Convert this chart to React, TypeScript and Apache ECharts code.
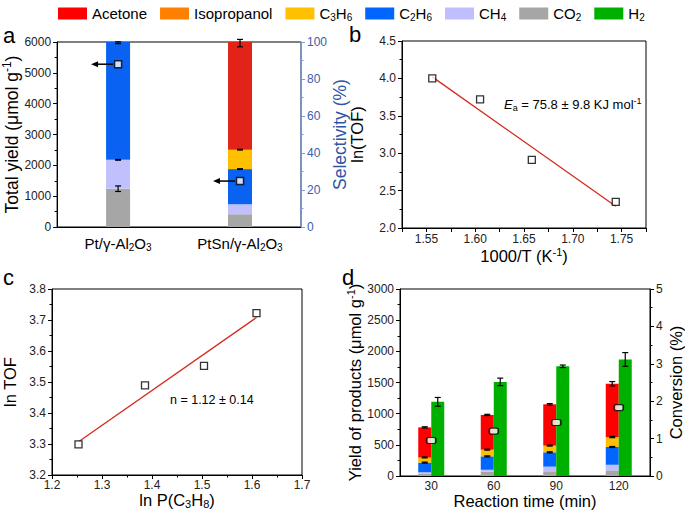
import React, { useEffect, useRef } from 'react';
import * as echarts from 'echarts';

const FONT = "'Liberation Sans', Arial, Helvetica, sans-serif";

// ---------- legend ----------
const legendNames = ['Acetone', 'Isopropanol', 'C3H6', 'C2H6', 'CH4', 'CO2', 'H2'];

// ---------- panel a (selectivity %, total yield) ----------
const catalystsA = ['Pt/γ-Al2O3', 'PtSn/γ-Al2O3'];
const selCO2A = [20.7, 6.9];
const selCH4A = [15.6, 5.4];
const selC2H6A = [63.7, 19.0];
const selC3H6A = [0, 10.5];
const selIsoA = [0, 0];
const selAcetoneA = [0, 58.2];
const totalYieldA = [5280, 1490];
// [category index, value, error]
const errA = [
  [0, 99.6, 0.5], [0, 36.3, 0.2], [0, 20.7, 1.5],
  [1, 99.4, 2.0], [1, 41.8, 0.2], [1, 31.3, 0.2],
];

// ---------- panel b ----------
const invT = [1.556, 1.605, 1.658, 1.744];
const lnTOFb = [4.0, 3.72, 2.91, 2.35];
const fitB = [[1.556, 4.02], [1.744, 2.29]];

// ---------- panel c ----------
const lnP = [1.253, 1.386, 1.504, 1.609];
const lnTOFc = [3.299, 3.489, 3.552, 3.722];
const fitC = [[1.253, 3.307], [1.609, 3.708]];

// ---------- panel d ----------
const timesD = ['30', '60', '90', '120'];
const co2D = [35, 70, 75, 90];
const ch4D = [25, 30, 75, 90];
const c2h6D = [155, 215, 230, 285];
const c3h6D = [75, 100, 100, 150];
const isoD = [8, 8, 8, 10];
const acetoneD = [482, 557, 662, 855];
const h2D = [1190, 1510, 1760, 1870];
const errAcetoneD = [10, 10, 12, 35];
const errC3H6D = [8, 8, 8, 10];
const errC2H6D = [8, 8, 8, 8];
const errH2D = [70, 60, 20, 110];
const conversionD = [0.95, 1.2, 1.43, 1.83];

const colorsD: Record<string, string> = {
  Acetone: '#FF0000', Isopropanol: '#FF8000', C3H6: '#FFC000', C2H6: '#0066FF',
  CH4: '#BFBFFF', CO2: '#A6A6A6', H2: '#00B000',
};
const colorsA: Record<string, string> = {
  Acetone: '#E2231A', Isopropanol: '#FF8000', C3H6: '#FFC000', C2H6: '#0A62F2',
  CH4: '#C0C0FF', CO2: '#A6A6A6',
};

const subify = (s: string) => s.replace(/(\d)/g, '{s|$1}');

const richFor = (size: number) => ({
  s: { fontFamily: FONT, fontSize: Math.round(size * 0.66), padding: [Math.round(size * 0.5), 0, 0, 0], color: '#000' },
  p: { fontFamily: FONT, fontSize: Math.round(size * 0.66), padding: [0, 0, Math.round(size * 0.5), 0], color: '#000' },
  i: { fontFamily: FONT, fontSize: size, fontStyle: 'italic', color: '#000' },
});

const errRender = (offset: number, cap: number) => (params: any, api: any) => {
  const c = api.value(0);
  const v = api.value(1);
  const e = api.value(2);
  const hi = api.coord([c, v + e]);
  const lo = api.coord([c, v - e]);
  const x = hi[0] + offset;
  const st = { stroke: '#000', lineWidth: 1.2 };
  return {
    type: 'group',
    children: [
      { type: 'line', shape: { x1: x, y1: hi[1], x2: x, y2: lo[1] }, style: st },
      { type: 'line', shape: { x1: x - cap, y1: hi[1], x2: x + cap, y2: hi[1] }, style: st },
      { type: 'line', shape: { x1: x - cap, y1: lo[1], x2: x + cap, y2: lo[1] }, style: st },
    ],
  };
};

const arrowRender = (params: any, api: any) => {
  const p = api.coord([api.value(0), api.value(1)]);
  const y = p[1];
  const xs = p[0] - 5;
  const xe = p[0] - 27;
  return {
    type: 'group',
    children: [
      { type: 'line', shape: { x1: xs, y1: y, x2: xe + 5, y2: y }, style: { stroke: '#000', lineWidth: 1.5 } },
      { type: 'polygon', shape: { points: [[xe, y], [xe + 7, y - 3], [xe + 7, y + 3]] }, style: { fill: '#000' } },
    ],
  };
};

const axisBase = (extra: any = {}) => ({
  axisLine: { show: true, lineStyle: { color: '#000', width: 1 } },
  axisTick: { show: true, inside: false, length: 4, lineStyle: { color: '#000' } },
  minorTick: { show: true, splitNumber: 2, length: 2.5, lineStyle: { color: '#000' } },
  splitLine: { show: false },
  axisLabel: { fontFamily: FONT, fontSize: 12, color: '#222', margin: 6, formatter: (v: number) => String(v) },
  nameLocation: 'middle',
  nameTextStyle: { fontFamily: FONT, fontSize: 16.5, color: '#000', rich: richFor(16.5) },
  ...extra,
});

export default function App() {
  const ref = useRef<HTMLDivElement>(null);

  useEffect(() => {
    if (!ref.current) return;
    const chart = echarts.init(ref.current, undefined, { renderer: 'svg' });

    const n = timesD.length;
    const cumC2H6 = timesD.map((_, i) => co2D[i] + ch4D[i] + c2h6D[i]);
    const cumC3H6 = timesD.map((_, i) => cumC2H6[i] + c3h6D[i]);
    const cumTotal = timesD.map((_, i) => cumC3H6[i] + isoD[i] + acetoneD[i]);
    const errStackD: number[][] = [];
    for (let i = 0; i < n; i++) {
      errStackD.push([i, cumTotal[i], errAcetoneD[i]]);
      errStackD.push([i, cumC3H6[i] + isoD[i], errC3H6D[i]]);
      errStackD.push([i, cumC2H6[i], errC2H6D[i]]);
    }
    const errH2 = h2D.map((v, i) => [i, v, errH2D[i]]);

    const gridStyle = { show: true, borderColor: '#000', borderWidth: 1, backgroundColor: 'transparent', containLabel: false };

    const barA = (name: string, key: string, data: number[]) => ({
      name: 'a-' + name, type: 'bar', xAxisIndex: 0, yAxisIndex: 1, stack: 'a', barWidth: 24,
      data, itemStyle: { color: colorsA[key] }, silent: true,
    });
    const barD = (name: string, data: number[]) => ({
      name, type: 'bar', xAxisIndex: 3, yAxisIndex: 4, stack: 'd', barWidth: 13, barGap: '0%',
      data, itemStyle: { color: colorsD[name] }, silent: true,
    });

    const option: any = {
      animation: false,
      backgroundColor: '#fff',
      textStyle: { fontFamily: FONT },
      legend: {
        data: legendNames,
        left: 53,
        top: 1,
        itemWidth: 29,
        itemHeight: 12,
        itemGap: 13,
        icon: 'rect',
        selectedMode: false,
        formatter: (nm: string) => subify(nm),
        textStyle: { fontFamily: FONT, fontSize: 15, color: '#000', rich: richFor(15) },
      },
      grid: [
        { left: 52, top: 42, width: 249, height: 185, ...gridStyle },
        { left: 402, top: 41, width: 244, height: 187, ...gridStyle },
        { left: 52, top: 289, width: 250, height: 186, ...gridStyle },
        { left: 400, top: 289, width: 251, height: 187, ...gridStyle },
      ],
      xAxis: [
        axisBase({
          gridIndex: 0, type: 'category', data: catalystsA,
          axisTick: { show: false }, minorTick: { show: false },
          axisLabel: {
            fontFamily: FONT, fontSize: 15, color: '#000', margin: 7, interval: 0,
            formatter: (v: string) => subify(v), rich: richFor(15),
          },
        }),
        axisBase({
          gridIndex: 1, type: 'value', min: 1.525, max: 1.775, interval: 0.025,
          minorTick: { show: false },
          axisLabel: {
            fontFamily: FONT, fontSize: 12, color: '#222', margin: 5,
            formatter: (v: number) => (Math.round(v * 1000) % 50 === 0 ? v.toFixed(2) : ''),
          },
          name: '1000/T (K{p|-1})', nameGap: 18,
        }),
        axisBase({
          gridIndex: 2, type: 'value', min: 1.2, max: 1.7, interval: 0.1,
          axisLabel: { fontFamily: FONT, fontSize: 12, color: '#222', margin: 4, formatter: (v: number) => v.toFixed(1) },
          name: 'ln P(C{s|3}H{s|8})', nameGap: 14,
        }),
        axisBase({
          gridIndex: 3, type: 'category', data: timesD,
          axisTick: { show: false }, minorTick: { show: false },
          axisLabel: { fontFamily: FONT, fontSize: 12, color: '#222', margin: 4, interval: 0 },
          name: 'Reaction time (min)', nameGap: 14,
        }),
      ],
      yAxis: [
        axisBase({
          gridIndex: 0, type: 'value', min: 0, max: 6000, interval: 1000,
          name: 'Total yield (μmol g{p|-1})', nameGap: 33, nameRotate: 90,
          nameTextStyle: { fontFamily: FONT, fontSize: 17.5, color: '#000', rich: richFor(17.5) },
        }),
        axisBase({
          gridIndex: 0, type: 'value', position: 'right', min: 0, max: 100, interval: 20,
          axisLine: { show: true, lineStyle: { color: '#7E9AD0', width: 1.5 } },
          axisTick: { show: true, length: 4, lineStyle: { color: '#7E9AD0' } },
          minorTick: { show: true, splitNumber: 2, length: 2.5, lineStyle: { color: '#7E9AD0' } },
          axisLabel: { fontFamily: FONT, fontSize: 12, color: '#3A5DAE', margin: 6 },
          name: 'Selectivity (%)', nameGap: 21, nameRotate: 90,
          nameTextStyle: { fontFamily: FONT, fontSize: 17.5, color: '#2F55A4' },
        }),
        axisBase({
          gridIndex: 1, type: 'value', min: 2.0, max: 4.5, interval: 0.5,
          axisLabel: { fontFamily: FONT, fontSize: 12, color: '#222', margin: 6, formatter: (v: number) => v.toFixed(1) },
          name: 'ln(TOF)', nameGap: 37, nameRotate: 90,
        }),
        axisBase({
          gridIndex: 2, type: 'value', min: 3.2, max: 3.8, interval: 0.1,
          axisLabel: { fontFamily: FONT, fontSize: 12, color: '#222', margin: 6, formatter: (v: number) => v.toFixed(1) },
          name: 'ln TOF', nameGap: 34, nameRotate: 90,
        }),
        axisBase({
          gridIndex: 3, type: 'value', min: 0, max: 3000, interval: 500,
          name: 'Yield of products (μmol g{p|-1})', nameGap: 36, nameRotate: 90,
        }),
        axisBase({
          gridIndex: 3, type: 'value', position: 'right', min: 0, max: 5, interval: 1,
          name: 'Conversion (%)', nameGap: 17, nameRotate: 90,
        }),
      ],
      series: [
        // panel a
        barA('CO2', 'CO2', selCO2A),
        barA('CH4', 'CH4', selCH4A),
        barA('C2H6', 'C2H6', selC2H6A),
        barA('C3H6', 'C3H6', selC3H6A),
        barA('Isopropanol', 'Isopropanol', selIsoA),
        barA('Acetone', 'Acetone', selAcetoneA),
        {
          name: 'a-err', type: 'custom', xAxisIndex: 0, yAxisIndex: 1, encode: { x: 0, y: 1 },
          renderItem: errRender(0, 3), data: errA, z: 5, silent: true,
        },
        {
          name: 'a-arrow', type: 'custom', xAxisIndex: 0, yAxisIndex: 0, encode: { x: 0, y: 1 },
          renderItem: arrowRender, data: totalYieldA.map((v, i) => [i, v]), z: 6, silent: true,
        },
        {
          name: 'a-total', type: 'scatter', xAxisIndex: 0, yAxisIndex: 0,
          data: totalYieldA.map((v, i) => [i, v]), symbol: 'rect', symbolSize: 7,
          itemStyle: { color: '#fff', borderColor: '#000', borderWidth: 1.5 }, z: 7, silent: true,
        },
        // panel b
        {
          name: 'b-fit', type: 'line', xAxisIndex: 1, yAxisIndex: 2, data: fitB, symbol: 'none',
          lineStyle: { color: '#D42A20', width: 1.3 }, silent: true,
        },
        {
          name: 'b-pts', type: 'scatter', xAxisIndex: 1, yAxisIndex: 2,
          data: invT.map((x, i) => [x, lnTOFb[i]]), symbol: 'rect', symbolSize: 7,
          itemStyle: { color: '#fff', borderColor: '#000', borderWidth: 1.3 }, z: 5, silent: true,
        },
        // panel c
        {
          name: 'c-fit', type: 'line', xAxisIndex: 2, yAxisIndex: 3, data: fitC, symbol: 'none',
          lineStyle: { color: '#D42A20', width: 1.3 }, silent: true,
        },
        {
          name: 'c-pts', type: 'scatter', xAxisIndex: 2, yAxisIndex: 3,
          data: lnP.map((x, i) => [x, lnTOFc[i]]), symbol: 'rect', symbolSize: 7,
          itemStyle: { color: '#fff', borderColor: '#000', borderWidth: 1.3 }, z: 5, silent: true,
        },
        // panel d
        barD('CO2', co2D),
        barD('CH4', ch4D),
        barD('C2H6', c2h6D),
        barD('C3H6', c3h6D),
        barD('Isopropanol', isoD),
        barD('Acetone', acetoneD),
        {
          name: 'H2', type: 'bar', xAxisIndex: 3, yAxisIndex: 4, barWidth: 13, barGap: '0%',
          data: h2D, itemStyle: { color: colorsD.H2 }, silent: true,
        },
        {
          name: 'd-err', type: 'custom', xAxisIndex: 3, yAxisIndex: 4, encode: { x: 0, y: 1 },
          renderItem: errRender(-6.5, 3), data: errStackD, z: 5, silent: true,
        },
        {
          name: 'd-errH2', type: 'custom', xAxisIndex: 3, yAxisIndex: 4, encode: { x: 0, y: 1 },
          renderItem: errRender(6.5, 3), data: errH2, z: 5, silent: true,
        },
        {
          name: 'd-conv', type: 'scatter', xAxisIndex: 3, yAxisIndex: 5,
          data: conversionD.map((v, i) => [i, v]), symbol: 'roundRect', symbolSize: [9, 6],
          itemStyle: { color: '#fff', borderColor: '#000', borderWidth: 1.4 }, z: 7, silent: true,
        },
      ],
      graphic: [
        { type: 'text', left: 3, top: 24, style: { text: 'a', font: `22px ${FONT}`, fill: '#000' } },
        { type: 'text', left: 349, top: 23, style: { text: 'b', font: `22px ${FONT}`, fill: '#000' } },
        { type: 'text', left: 3, top: 266, style: { text: 'c', font: `22px ${FONT}`, fill: '#000' } },
        { type: 'text', left: 342, top: 266, style: { text: 'd', font: `22px ${FONT}`, fill: '#000' } },
        {
          type: 'text', left: 504, top: 96,
          style: {
            text: '{i|E}{s|a} = 75.8 ± 9.8 KJ mol{p|-1}', font: `13px ${FONT}`, fill: '#000',
            rich: richFor(13),
          },
        },
        {
          type: 'text', left: 170, top: 393,
          style: { text: 'n = 1.12 ± 0.14', font: `12.5px ${FONT}`, fill: '#000' },
        },
      ],
    };

    chart.setOption(option);
    return () => chart.dispose();
  }, []);

  return (
    <div
      ref={ref}
      style={{ position: 'absolute', left: 0, top: 0, width: 685, height: 514, background: '#fff' }}
    />
  );
}
